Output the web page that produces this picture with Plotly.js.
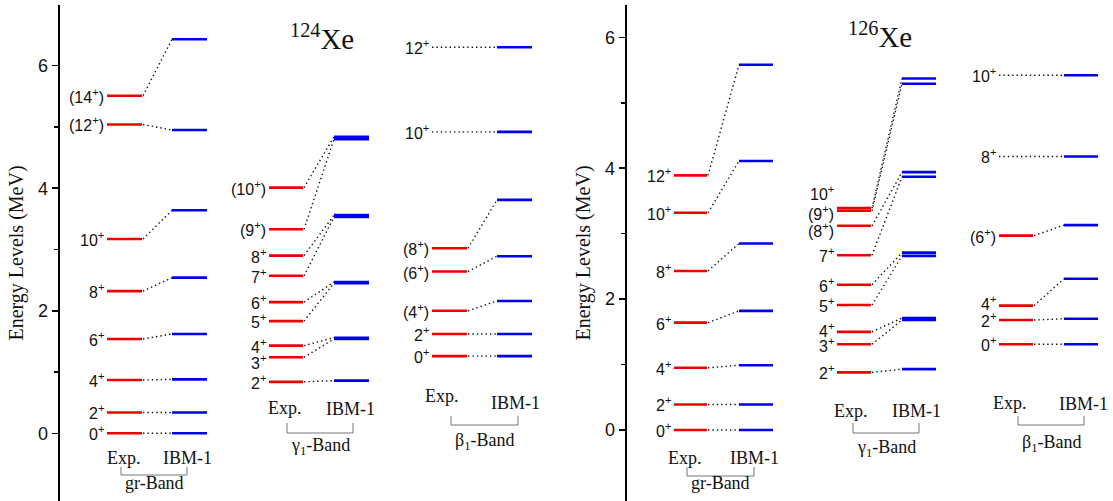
<!DOCTYPE html>
<html><head><meta charset="utf-8">
<script src="https://cdn.plot.ly/plotly-3.0.1.min.js"></script>
<style>html,body{margin:0;padding:0;background:#fff}#chart{width:1113px;height:501px}</style>
</head><body><div id="chart"></div>
<script>
// ---------- 124Xe ----------
const gr124Labels = ['0+','2+','4+','6+','8+','10+','(12+)','(14+)'];
const gr124Exp = [0, 0.34, 0.87, 1.54, 2.32, 3.17, 5.04, 5.51];
const gr124Ibm = [0, 0.34, 0.88, 1.62, 2.54, 3.64, 4.95, 6.43];
const gam124Labels = ['2+','3+','4+','5+','6+','7+','8+','(9+)','(10+)'];
const gam124Exp = [0.84, 1.24, 1.43, 1.83, 2.14, 2.57, 2.90, 3.33, 4.01];
const gam124Ibm = [0.86, 1.54, 1.56, 2.45, 2.47, 3.53, 3.56, 4.80, 4.84];
const beta124Labels = ['0+','2+','(4+)','(6+)','(8+)','10+','12+'];
const beta124Exp = [1.26, 1.62, 2.00, 2.64, 3.02, null, null];
const beta124Ibm = [1.26, 1.62, 2.16, 2.89, 3.81, 4.92, 6.30];
// ---------- 126Xe ----------
const gr126Labels = ['0+','2+','4+','6+','8+','10+','12+'];
const gr126Exp = [0, 0.39, 0.95, 1.64, 2.43, 3.32, 3.89];
const gr126Ibm = [0, 0.39, 0.99, 1.82, 2.85, 4.11, 5.58];
const gam126Labels = ['2+','3+','4+','5+','6+','7+','(8+)','(9+)','10+'];
const gam126Exp = [0.88, 1.31, 1.50, 1.91, 2.22, 2.67, 3.12, 3.35, 3.39];
const gam126Ibm = [0.93, 1.68, 1.71, 2.66, 2.71, 3.87, 3.94, 5.29, 5.37];
const beta126Labels = ['0+','2+','4+','(6+)','8+','10+'];
const beta126Exp = [1.31, 1.68, 1.90, 2.97, null, null];
const beta126Ibm = [1.31, 1.70, 2.31, 3.13, 4.18, 5.42];

const yTickVals = [0, 2, 4, 6];
const yTickText = ['0', '2', '4', '6'];
const axisTitle = 'Energy Levels (MeV)';

// ---------- layout (pixel geometry) ----------
const W = 1113, H = 501;
const RED = 'rgb(238,0,0)', BLUE = 'rgb(0,0,235)';
const serif = 'Liberation Serif, Times New Roman, serif';
const sans = 'Liberation Sans, Arial, sans-serif';
function py(p) { return 1 - p / H; }

const bands = [
  {yax:'y',  labels:gr124Labels,   exp:gr124Exp,   ibm:gr124Ibm,   xe:[107,142], xi:[172,207], shift:{},
   expT:[124,458], ibmT:[187,458], br:[121,187,467,475], name:'gr-Band', nameY:483},
  {yax:'y',  labels:gam124Labels,  exp:gam124Exp,  ibm:gam124Ibm,  xe:[269,303], xi:[334,369], shift:{1:-5,2:0},
   expT:[285,408], ibmT:[350,409], br:[287,353,423,433], name:'γ<sub>1</sub>-Band', nameY:446},
  {yax:'y',  labels:beta124Labels, exp:beta124Exp, ibm:beta124Ibm, xe:[432,467], xi:[497,532], shift:{},
   expT:[442,396], ibmT:[515,403], br:[451,518,416,425], name:'β<sub>1</sub>-Band', nameY:441},
  {yax:'y2', labels:gr126Labels,   exp:gr126Exp,   ibm:gr126Ibm,   xe:[674,707], xi:[739,773], shift:{},
   expT:[685,458], ibmT:[754,458], br:[687,754,467,476], name:'gr-Band', nameY:483},
  {yax:'y2', labels:gam126Labels,  exp:gam126Exp,  ibm:gam126Ibm,  xe:[837,871], xi:[902,936], shift:{1:-1,2:2,6:-4,7:-2,8:15},
   expT:[851,411], ibmT:[916,411], br:[853,919,423,433], name:'γ<sub>1</sub>-Band', nameY:448},
  {yax:'y2', labels:beta126Labels, exp:beta126Exp, ibm:beta126Ibm, xe:[999,1033], xi:[1064,1098], shift:{2:3},
   expT:[1010,403], ibmT:[1083,404], br:[1018,1084,416,425], name:'β<sub>1</sub>-Band', nameY:443}
];

const traces = [];
const annotations = [];
const shapes = [];

bands.forEach(b => {
  const rx = [], ry = [], bx = [], by = [], cx = [], cy = [];
  b.labels.forEach((lab, i) => {
    const e = b.exp[i], t = b.ibm[i];
    if (e !== null) { rx.push(b.xe[0], b.xe[1], null); ry.push(e, e, null); }
    bx.push(b.xi[0], b.xi[1], null); by.push(t, t, null);
    if (e !== null) { cx.push(b.xe[1] + 1, b.xi[0], null); cy.push(e, t, null); }
    else { cx.push(b.xe[0], b.xi[0], null); cy.push(t, t, null); }
    annotations.push({
      xref:'x', yref:b.yax, x:b.xe[0] - 1, y:(e !== null ? e : t),
      text: lab.replace('+', '<sup>+</sup>'), showarrow:false, xanchor:'right', yanchor:'middle',
      yshift: (b.shift[i] || 0), font:{family:sans, size:16, color:'#111'}
    });
  });
  traces.push({x:cx, y:cy, xaxis:'x', yaxis:b.yax, mode:'lines', hoverinfo:'skip',
    line:{color:'#111', width:1.4, dash:'1.4px,3px'}});
  traces.push({x:rx, y:ry, xaxis:'x', yaxis:b.yax, mode:'lines', hoverinfo:'skip',
    line:{color:RED, width:2.6}});
  traces.push({x:bx, y:by, xaxis:'x', yaxis:b.yax, mode:'lines', hoverinfo:'skip',
    line:{color:BLUE, width:2.6}});
  annotations.push({xref:'x', yref:'paper', x:b.expT[0], y:py(b.expT[1]), text:'Exp.', showarrow:false,
    xanchor:'center', yanchor:'middle', font:{family:serif, size:18, color:'#111'}});
  annotations.push({xref:'x', yref:'paper', x:b.ibmT[0], y:py(b.ibmT[1]), text:'IBM-1', showarrow:false,
    xanchor:'center', yanchor:'middle', font:{family:serif, size:18, color:'#111'}});
  annotations.push({xref:'x', yref:'paper', x:(b.br[0] + b.br[1]) / 2, y:py(b.nameY), text:b.name, showarrow:false,
    xanchor:'center', yanchor:'middle', font:{family:serif, size:18, color:'#111'}});
  const [x1, x2, t1, t2] = b.br;
  shapes.push({type:'path', xref:'x', yref:'paper',
    path:`M ${x1},${py(t1)} L ${x1},${py(t2)} L ${x2},${py(t2)} L ${x2},${py(t1)}`,
    line:{color:'#777', width:1}});
});

annotations.push({xref:'x', yref:'paper', x:322, y:py(37), text:'<sup>124</sup>Xe', showarrow:false,
  xanchor:'center', yanchor:'middle', font:{family:serif, size:29, color:'#111'}});
annotations.push({xref:'x', yref:'paper', x:880, y:py(35), text:'<sup>126</sup>Xe', showarrow:false,
  xanchor:'center', yanchor:'middle', font:{family:serif, size:29, color:'#111'}});

const yCommon = {
  domain:[0, py(5)], anchor:'free', side:'left', showline:true, linewidth:2, linecolor:'#000',
  ticks:'outside', ticklen:6, tickwidth:1.5, tickcolor:'#000', tickvals:yTickVals, ticktext:yTickText,
  minor:{tickvals:[1,3,5], ticks:'outside', ticklen:4, tickwidth:1.5, tickcolor:'#000'},
  tickfont:{family:sans, size:18, color:'#111'}, showgrid:false, zeroline:false, fixedrange:true,
  automargin:false,
  title:{text:axisTitle, font:{family:serif, size:20, color:'#111'}, standoff:8}
};

const layout = {
  width:W, height:H, margin:{l:0, r:0, t:0, b:0}, paper_bgcolor:'#fff', plot_bgcolor:'#fff',
  showlegend:false,
  xaxis:{domain:[0,1], range:[0, W], visible:false, fixedrange:true},
  yaxis:Object.assign({}, yCommon, {position:58.5 / W, range:[-1.105, 6.99]}),
  yaxis2:Object.assign({}, yCommon, {position:625.7 / W, range:[-1.085, 6.494], overlaying:'y'}),
  annotations:annotations, shapes:shapes
};

Plotly.newPlot('chart', traces, layout, {displayModeBar:false, staticPlot:true});
</script></body></html>
